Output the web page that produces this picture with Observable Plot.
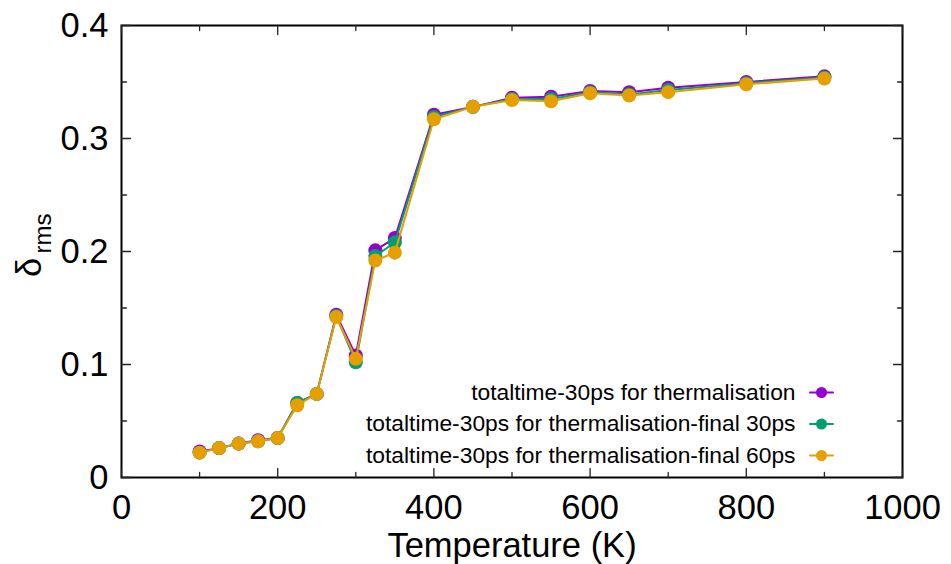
<!DOCTYPE html>
<html>
<head>
<meta charset="utf-8">
<script src="https://cdn.jsdelivr.net/npm/d3@7"></script>
<script src="https://cdn.jsdelivr.net/npm/@observablehq/plot@0.6"></script>
<style>
  html, body { margin: 0; padding: 0; background: #fff; }
  #chart { width: 951px; height: 564px; }
</style>
</head>
<body>
<div id="chart"></div>
<script>
// Temperatures (K) at which delta_rms was computed
const temperatures = [100, 125, 150, 175, 200, 225, 250, 275, 300, 325, 350, 400, 450, 500, 550, 600, 650, 700, 800, 900];

// delta_rms for each averaging window
const thermalisation = [0.023, 0.026, 0.030, 0.033, 0.035, 0.066, 0.074, 0.144, 0.108, 0.201, 0.212, 0.321, 0.328, 0.336, 0.337, 0.342, 0.341, 0.345, 0.350, 0.355];
const final30 = [0.022, 0.026, 0.030, 0.032, 0.035, 0.066, 0.074, 0.143, 0.102, 0.196, 0.208, 0.319, 0.328, 0.335, 0.335, 0.341, 0.339, 0.343, 0.349, 0.354];
const final60 = [0.022, 0.026, 0.030, 0.032, 0.035, 0.064, 0.074, 0.142, 0.105, 0.192, 0.199, 0.317, 0.328, 0.334, 0.333, 0.340, 0.338, 0.341, 0.348, 0.353];

const seriesNames = [
  "totaltime-30ps for thermalisation",
  "totaltime-30ps for thermalisation-final 30ps",
  "totaltime-30ps for thermalisation-final 60ps"
];
const seriesValues = [thermalisation, final30, final60];
const seriesColors = ["#9400d3", "#009e73", "#e69f00"];

// Axis ticks
const xMajor = [0, 200, 400, 600, 800, 1000];
const xMinor = [100, 300, 500, 700, 900];
const yMajor = [0, 0.1, 0.2, 0.3, 0.4];
const yMinor = [0.05, 0.15, 0.25, 0.35];

const font = "'Liberation Sans', Arial, sans-serif";
const tickStroke = "#222";
const labelSize = 34.5;

// Layout
const W = 951, H = 564;
const M = {top: 25, right: 49, bottom: 87, left: 121};

const series = seriesNames.map((name, i) => ({
  name,
  color: seriesColors[i],
  rows: temperatures.map((t, j) => ({T: t, v: seriesValues[i][j]}))
}));

const marks = [];

// Tick labels
marks.push(Plot.axisX(xMajor, {anchor: "bottom", tickSize: 0, tickPadding: 17, tickFormat: d => String(d), label: null, fontSize: labelSize, fill: "#000"}));
marks.push(Plot.axisY(yMajor, {anchor: "left", tickSize: 0, tickPadding: 13, tickFormat: d => d === 0 ? "0" : d.toFixed(1), label: null, fontSize: labelSize, fill: "#000"}));

// Data: each series drawn as line + points, in order
for (const s of series) {
  marks.push(Plot.line(s.rows, {x: "T", y: "v", stroke: s.color, strokeWidth: 2}));
  marks.push(Plot.dot(s.rows, {x: "T", y: "v", r: 7, fill: s.color, stroke: "none"}));
}

// Key (bottom-right, inside the frame): label, short line sample and point
series.forEach((s, i) => {
  const dy = -22 - (2 - i) * 31.5;
  marks.push(Plot.text([s.name], {text: d => d, frameAnchor: "bottom-right", dx: -107, dy, textAnchor: "end", lineAnchor: "middle", fontSize: 22.8, fill: "#000"}));
  marks.push(Plot.vector([s.name], {frameAnchor: "bottom-right", dx: -81, dy, length: 23, rotate: 90, anchor: "middle", r: 0, stroke: s.color, strokeWidth: 2}));
  marks.push(Plot.dot([s.name], {frameAnchor: "bottom-right", dx: -81, dy, r: 5.5, fill: s.color, stroke: "none"}));
});

// Axis titles
marks.push(Plot.text(["Temperature (K)"], {frameAnchor: "bottom", dy: 79, lineAnchor: "bottom", fontSize: labelSize, fill: "#000", text: d => d}));
marks.push(Plot.text(["δ"], {frameAnchor: "left", dx: -81, dy: 16, rotate: -90, lineAnchor: "bottom", textAnchor: "middle", fontSize: labelSize, fill: "#000", text: d => d}));
marks.push(Plot.text(["rms"], {frameAnchor: "left", dx: -71, dy: -18, rotate: -90, lineAnchor: "bottom", textAnchor: "middle", fontSize: 24, fill: "#000", text: d => d}));

marks.push(Plot.frame({stroke: "#000", strokeWidth: 2}));

// Inward ticks on all four sides, drawn as short headless vectors from the frame
const tick = {r: 0, anchor: "start", stroke: tickStroke, strokeWidth: 1.3};
for (const [ticks, len] of [[xMajor, 9], [xMinor, 5]]) {
  marks.push(Plot.vector(ticks.map(x => ({x})), {...tick, x: "x", frameAnchor: "bottom", rotate: 0, length: len}));
  marks.push(Plot.vector(ticks.map(x => ({x})), {...tick, x: "x", frameAnchor: "top", rotate: 180, length: len}));
}
for (const [ticks, len] of [[yMajor, 9], [yMinor, 5]]) {
  marks.push(Plot.vector(ticks.map(y => ({y})), {...tick, y: "y", frameAnchor: "left", rotate: 90, length: len}));
  marks.push(Plot.vector(ticks.map(y => ({y})), {...tick, y: "y", frameAnchor: "right", rotate: -90, length: len}));
}

const plot = Plot.plot({
  width: W,
  height: H,
  marginLeft: M.left,
  marginRight: M.right,
  marginTop: M.top,
  marginBottom: M.bottom,
  style: {fontFamily: font, background: "#fff", overflow: "visible"},
  x: {domain: [0, 1000], axis: null},
  y: {domain: [0, 0.4], axis: null},
  marks
});

document.getElementById("chart").appendChild(plot);
</script>
</body>
</html>
